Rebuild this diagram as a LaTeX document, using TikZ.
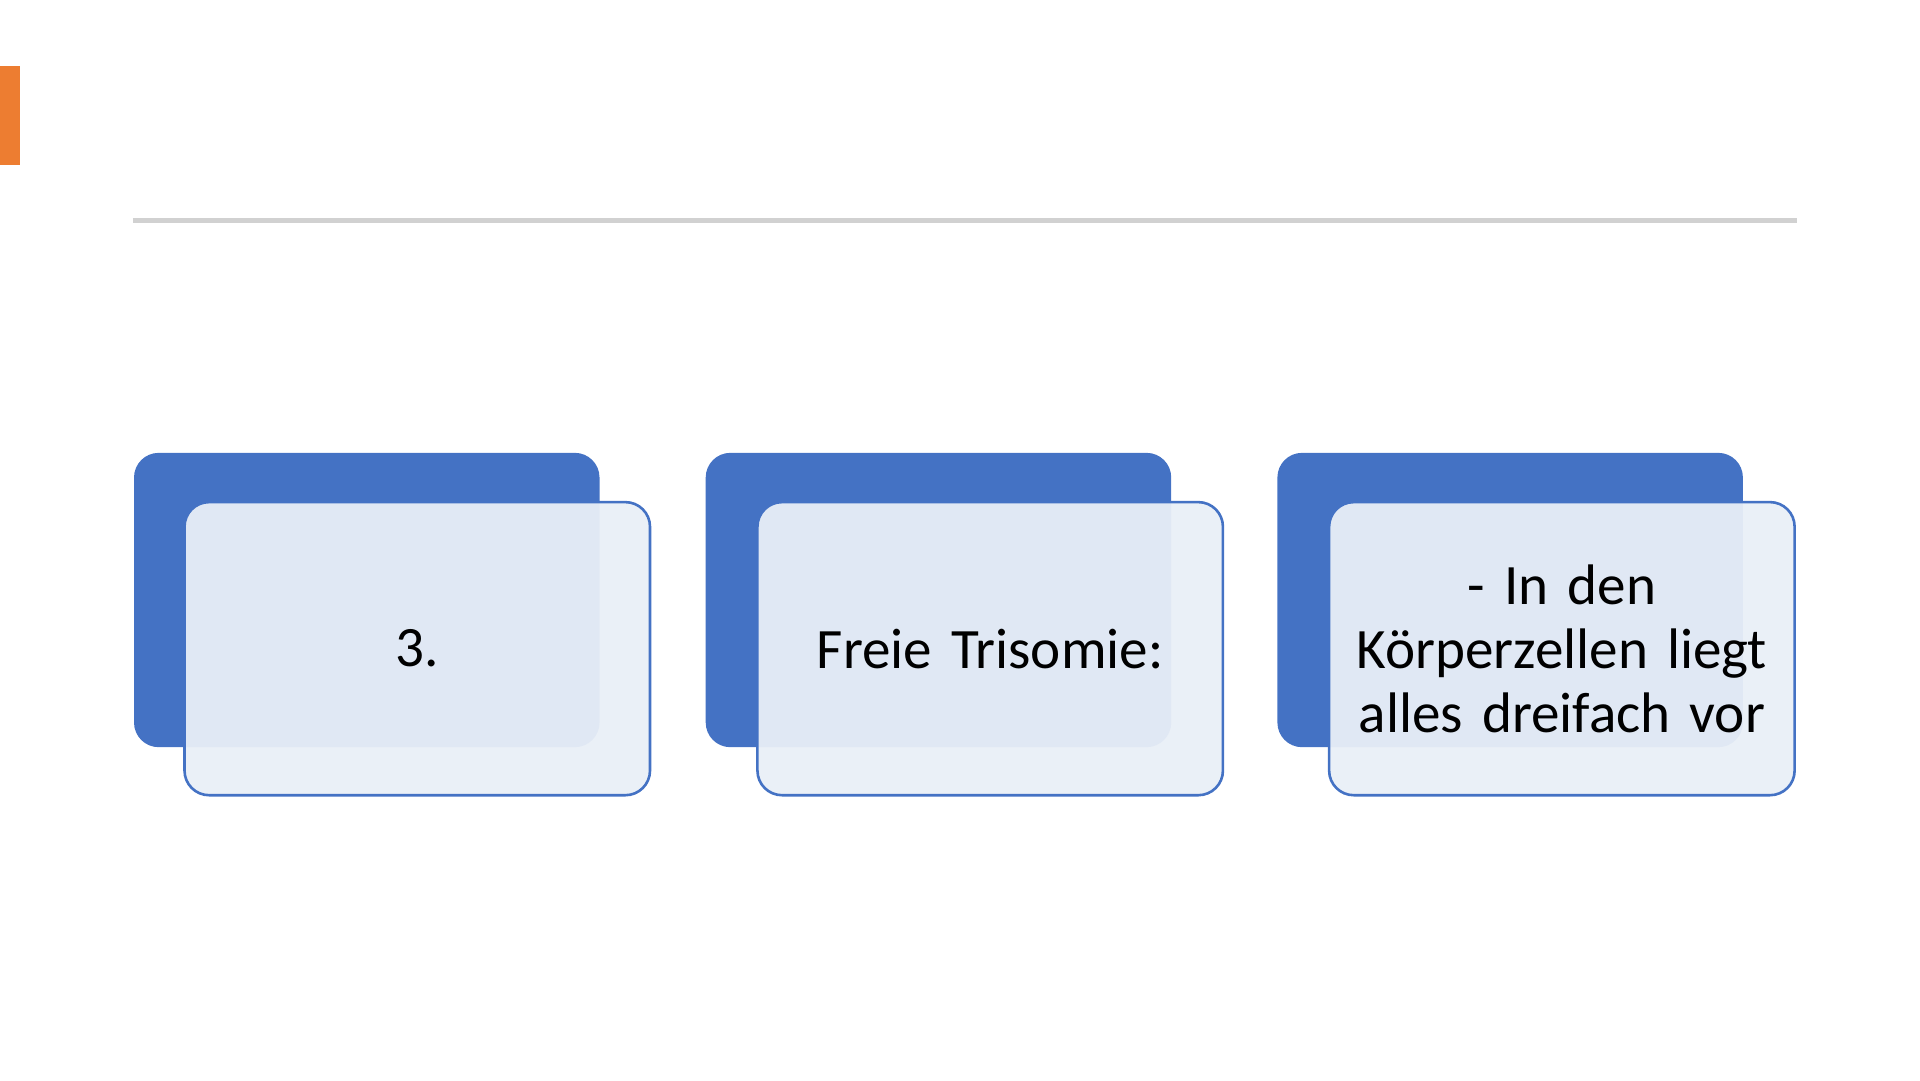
\documentclass[tikz,border=0pt]{standalone}
\usepackage{fontspec}
\setmainfont{Carlito}
\usetikzlibrary{positioning}
\definecolor{accent}{HTML}{4472C4}
\definecolor{pale}{HTML}{E9EFF7}
\definecolor{barorange}{HTML}{ED7D31}
\tikzset{
  backbox/.style={fill=accent,rounded corners=0.2cm,minimum width=3.78cm,minimum height=2.39cm,inner sep=0pt,outer sep=0pt},
  frontbox/.style={draw=accent,line width=0.6pt,fill=pale,fill opacity=0.95,text opacity=1,rounded corners=0.2cm,
    minimum width=3.78cm,minimum height=2.38cm,text width=3.6cm,align=center,inner sep=0pt,outer sep=0pt,
    font=\fontsize{13.2pt}{14.8pt}\selectfont}
}
\begin{document}
\begin{tikzpicture}[x=0.01cm,y=-0.01cm]
\useasboundingbox (0,0) rectangle (1560,877.5);
\fill[barorange] (0,54) rectangle (16,134);
\draw[black!18,line width=1.2pt] (108,179) -- (1460,179);
% back cards
\node[backbox] (b1) at (298,487.5) {};
\node[backbox] (b2) at (762.5,487.5) {};
\node[backbox] (b3) at (1227,487.5) {};
% front cards
\node[frontbox,below right=0.4cm and 0.41cm of b1.north west,anchor=north west] (f1) {3.};
\node[frontbox,below right=0.4cm and 0.42cm of b2.north west,anchor=north west] (f2) {Freie Trisomie:};
\node[frontbox,below right=0.4cm and 0.42cm of b3.north west,anchor=north west] (f3) {- In den\\Körperzellen liegt\\alles dreifach vor};
\end{tikzpicture}
\end{document}
